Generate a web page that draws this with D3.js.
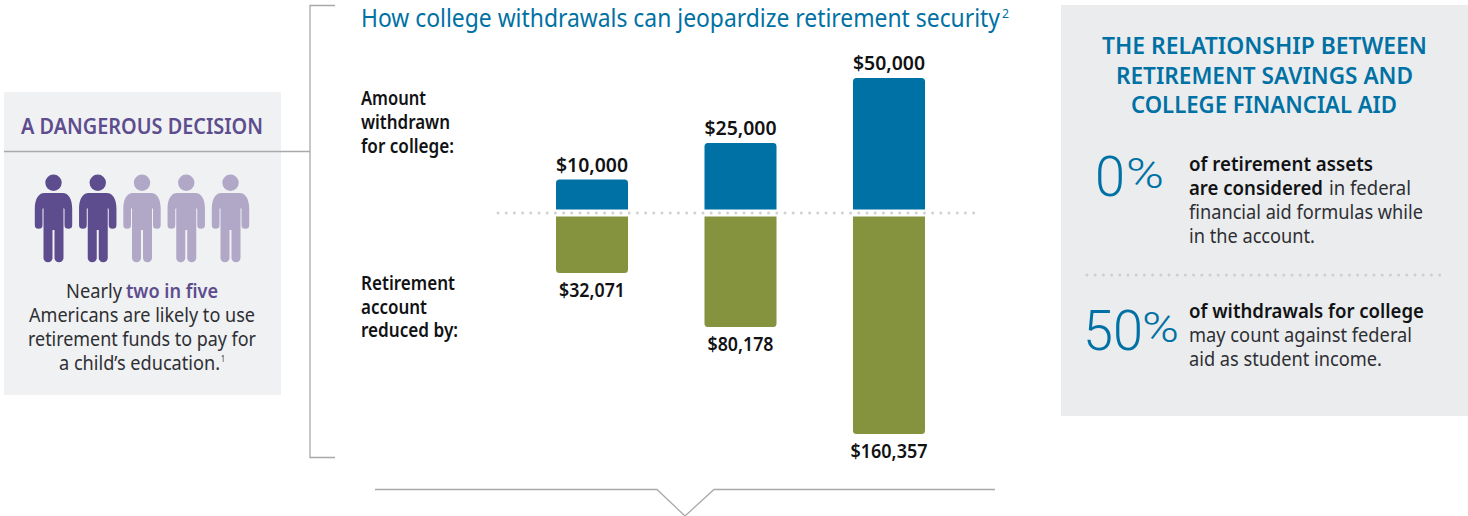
<!DOCTYPE html>
<html lang="en">
<head>
	<meta charset="UTF-8"/>
	<title>College withdrawals and retirement security</title>
	<script src="https://d3js.org/d3.v7.min.js"></script>
	<style>
		body { margin: 0; background-color: white; }
		svg { display: block; }
		text { font-family: "Noto Sans", sans-serif; }
	</style>
</head>
<body>
	<div id="chart"></div>

	<script>
	var withdrawn = [10000, 25000, 50000];
	var reduced = [32071, 80178, 160357];
	var people = [1, 1, 0, 0, 0];	// 1 = dark figure

	var w = 1468;
	var h = 516;
	var blue = "#0071a4";
	var green = "#85923e";
	var purple = "#5e4d8e";
	var lilac = "#b1a8c8";
	var grey = "#a8a9ab";
	var ink = "#111214";
	var body = "#2e2f33";

	// [text, x, baseline, width, size, weight, colour]
	var texts = [
		["How college withdrawals can jeopardize retirement security", 361, 27, 639, 25, 400, blue],
		["2", 1002, 18, 7, 13, 400, blue],
		["A DANGEROUS DECISION", 21, 134, 242, 21, 600, purple],
		["Nearly", 66, 298, 56, 19.5, 400, body],
		["two in five", 126, 298, 92, 19.5, 600, purple],
		["Americans are likely to use", 29, 322, 226, 19.5, 400, body],
		["retirement funds to pay for", 28, 346, 228, 19.5, 400, body],
		["a child’s education.", 59, 370, 161, 19.5, 400, body],
		["1", 221, 362, 4, 9, 400, body],
		["Amount", 361, 105, 65, 19, 600, ink],
		["withdrawn", 361, 129, 89, 19, 600, ink],
		["for college:", 361, 153, 93, 19, 600, ink],
		["Retirement", 361, 290, 94, 19, 600, ink],
		["account", 361, 314, 66, 19, 600, ink],
		["reduced by:", 361, 337, 97, 19, 600, ink],
		["THE RELATIONSHIP BETWEEN", 1102, 54, 325, 23, 600, blue],
		["RETIREMENT SAVINGS AND", 1116, 84, 297, 23, 600, blue],
		["COLLEGE FINANCIAL AID", 1131, 113, 266, 23, 600, blue],
		["of retirement assets", 1189, 171, 184, 20, 600, ink],
		["are considered", 1189, 195, 134, 20, 600, ink],
		["in federal", 1329, 195, 82, 20, 400, body],
		["financial aid formulas while", 1189, 219, 234, 20, 400, body],
		["in the account.", 1189, 243, 126, 20, 400, body],
		["of withdrawals for college", 1189, 318, 235, 20, 600, ink],
		["may count against federal", 1189, 342, 223, 20, 400, body],
		["aid as student income.", 1189, 366, 193, 20, 400, body]
	];
	var bigNumbers = [
		["0", 1095, 196, 30, 56],
		["%", 1126, 188, 38, 42],
		["50", 1083, 350, 60, 56],
		["%", 1142, 342, 37, 42]
	];

	var svg = d3.select("#chart")
				.append("svg")
				.attr("width", w)
				.attr("height", h);

	// panels
	svg.append("rect").attr("x", 4).attr("y", 92).attr("width", 277).attr("height", 303).attr("fill", "#f0f1f3");
	svg.append("rect").attr("x", 1061).attr("y", 5).attr("width", 407).attr("height", 411).attr("fill", "#ebecee");

	// bracket and pointer
	var rule = d3.line();
	[
		[[335, 5.5], [310, 5.5], [310, 457.5], [335, 457.5]],
		[[4, 151.5], [310, 151.5]],
		[[375, 489.5], [657, 489.5], [685, 516], [714, 489.5], [995, 489.5]]
	].forEach(function(p){
		svg.append("path")
			.attr("d", rule(p))
			.attr("fill", "none")
			.attr("stroke", grey)
			.attr("stroke-width", 1.3);
	});

	// the bars in the source are not quite to scale, so each scale goes through its own values
	var xScale = d3.scaleBand()
				.domain(d3.range(withdrawn.length))
				.range([556, 925])
				.paddingInner(0.515);

	var upScale = d3.scaleLinear()
				.domain([0].concat(withdrawn))
				.range([209.5, 179.5, 143, 78]);

	var downScale = d3.scaleLinear()
				.domain([0].concat(reduced))
				.range([216.5, 273, 327, 434]);

	function roundedBar(x, y0, y1, bw, r){
		var dir = y1 < y0 ? 1 : -1;
		var sweep = y1 < y0 ? 1 : 0;
		return "M" + x + "," + y0 +
			"V" + (y1 + dir * r) +
			"A" + r + "," + r + " 0 0 " + sweep + " " + (x + r) + "," + y1 +
			"H" + (x + bw - r) +
			"A" + r + "," + r + " 0 0 " + sweep + " " + (x + bw) + "," + (y1 + dir * r) +
			"V" + y0 + "Z";
	}

	svg.selectAll(".up")
		.data(withdrawn)
		.enter()
		.append("path")
		.attr("class", "up")
		.attr("fill", blue)
		.attr("d", function(d, i){
			return roundedBar(xScale(i), upScale(0), upScale(d), xScale.bandwidth(), 3.5);
		});

	svg.selectAll(".down")
		.data(reduced)
		.enter()
		.append("path")
		.attr("class", "down")
		.attr("fill", green)
		.attr("d", function(d, i){
			return roundedBar(xScale(i), downScale(0), downScale(d), xScale.bandwidth(), 3.5);
		});

	// dotted rules
	[[498, 978, 213, "#d0d1d1"], [1087, 1445, 275, "#cdced0"]].forEach(function(p){
		svg.append("line")
			.attr("x1", p[0])
			.attr("x2", p[1])
			.attr("y1", p[2])
			.attr("y2", p[2])
			.attr("stroke", p[3])
			.attr("stroke-width", 3)
			.attr("stroke-linecap", "round")
			.attr("stroke-dasharray", "0 8.2");
	});

	// value labels
	var money = d3.format("$,");

	svg.selectAll(".upLabel")
		.data(withdrawn)
		.enter()
		.append("text")
		.attr("class", "upLabel")
		.attr("x", function(d, i){ return xScale(i) + xScale.bandwidth() / 2; })
		.attr("y", function(d){ return upScale(d) - 8; })
		.attr("text-anchor", "middle")
		.attr("textLength", 72)
		.attr("lengthAdjust", "spacingAndGlyphs")
		.attr("font-size", 19)
		.attr("font-weight", 600)
		.attr("fill", ink)
		.text(money);

	svg.selectAll(".downLabel")
		.data(reduced)
		.enter()
		.append("text")
		.attr("class", "downLabel")
		.attr("x", function(d, i){ return xScale(i) + xScale.bandwidth() / 2; })
		.attr("y", function(d){ return downScale(d) + 24; })
		.attr("text-anchor", "middle")
		.attr("textLength", function(d){ return d > 100000 ? 77 : 66; })
		.attr("lengthAdjust", "spacingAndGlyphs")
		.attr("font-size", 19)
		.attr("font-weight", 600)
		.attr("fill", ink)
		.text(money);

	// people
	var personX = d3.scalePoint()
				.domain(d3.range(people.length))
				.range([53.5, 230.5]);

	var figure = "M-9,0H9C15,0 18.7,6 18.7,16V32a3.85,3.85 0 0 1 -7.7,0V16L10,15V65.5a4.6,4.6 0 0 1 -9,0V37H-1V65.5a4.6,4.6 0 0 1 -9,0V15L-11,16V32a3.85,3.85 0 0 1 -7.7,0V16C-18.7,6 -15,0 -9,0Z";

	var person = svg.selectAll(".person")
		.data(people)
		.enter()
		.append("g")
		.attr("class", "person")
		.attr("fill", function(d){ return d ? purple : lilac; })
		.attr("transform", function(d, i){ return "translate(" + personX(i) + ",193)"; });

	person.append("circle")
		.attr("cy", -10.3)
		.attr("r", 8.2);

	person.append("path")
		.attr("d", figure);

	// text, each piece fitted to the width it has in the source
	svg.selectAll(".copy")
		.data(texts)
		.enter()
		.append("text")
		.attr("class", "copy")
		.attr("x", function(d){ return d[1]; })
		.attr("y", function(d){ return d[2]; })
		.attr("textLength", function(d){ return d[3]; })
		.attr("lengthAdjust", "spacingAndGlyphs")
		.attr("font-size", function(d){ return d[4]; })
		.attr("font-weight", function(d){ return d[5]; })
		.attr("fill", function(d){ return d[6]; })
		.text(function(d){ return d[0]; });

	svg.selectAll(".big")
		.data(bigNumbers)
		.enter()
		.append("text")
		.attr("class", "big")
		.attr("x", function(d){ return d[1]; })
		.attr("y", function(d){ return d[2]; })
		.attr("textLength", function(d){ return d[3]; })
		.attr("lengthAdjust", "spacingAndGlyphs")
		.attr("font-size", function(d){ return d[4]; })
		.attr("font-weight", 300)
		.attr("fill", blue)
		.style("font-family", "Roboto, sans-serif")
		.text(function(d){ return d[0]; });
	</script>
</body>
</html>
